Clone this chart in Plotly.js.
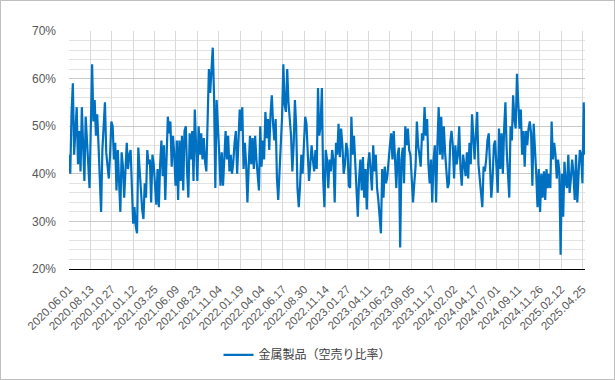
<!DOCTYPE html>
<html>
<head>
<meta charset="utf-8">
<script src="https://cdn.plot.ly/plotly-3.0.1.min.js"></script>
<style>
html,body{margin:0;padding:0;background:#fff;}
#chart{width:615px;height:380px;box-sizing:border-box;border:1px solid #bfbfbf;}
</style>
</head>
<body>
<div id="chart"></div>
<script>
// Series name (legend)
const seriesName = "金属製品（空売り比率）";

// Category tick labels (every 50 trading days)
const tickLabels = ["2020.06.01","2020.08.13","2020.10.27","2021.01.12","2021.03.25","2021.06.09",
  "2021.08.23","2021.11.04","2022.01.19","2022.04.04","2022.06.17","2022.08.30","2022.11.14",
  "2023.01.27","2023.04.11","2023.06.23","2023.09.05","2023.11.17","2024.02.02","2024.04.17",
  "2024.07.01","2024.09.11","2024.11.26","2025.02.12","2025.04.25"];

// Trading days between labelled ticks, and days between sampled readings
const daysPerTick = 50;
const daysPerReading = 3;

// Short-selling ratio (%), every 3rd trading day
const shortRatio = [
  44,40,53,59,44,48,54,42,49,40.5,54,46,38.5,52,47,41,37,50,63,51,55.5,48,52.5,46,37,32,45,50,55,44.5,
  42,39,44,51,50,43,46.5,36.5,45,38,32,44.5,41.5,35,42,46.5,41,44,45,34.5,29.5,33,29,27.5,45.5,41,36,32.5,
  30.5,38,35,45,42,
  43,34,44,42,37.5,33.5,41,33,42,47,39.5,46,34.5,44,52,48.5,51,41.5,48,44,37.5,47,34.5,47,38.5,48,36.5,
  49,50,40.5,35,48.5,43,49,38.5,53.5,47.5,38.5,50,44,48.5,43,47.5,42.5,40.5,52,62,57,61,66.5,56.5,37,55.5,
  48,44.5,37.5,44.5,37.5,43.5,49,43,48,40.5,44,40,42.5,46.5,
  49,40,48,53.5,49,54,41,46.5,42,34,41.5,48,42,47.5,41,48,43,40,36.5,50,41.5,47,43,53,47.5,51.5,45,52.5,
  56.5,50.5,47,51.5,39,34.5,41,48.5,52,63,54.5,53,62,55,51.5,48,40.5,46,55.5,50,37,33,37.5,44,40,46,52,
  50.5,44.5,38.5,42,46,43,40.5,45,41,58,48,
  50,58,39,33,45,43,37,43,40.5,45,43,34,46.5,44,50.5,43.5,49.5,46,40,42,46.5,45,37.5,37,52,44,48,42,37.5,
  31,39,43,36.5,43.5,35,41,32.5,42,44.5,40,36.5,46,40.5,44,37,34.5,30,27.5,41,35,41.5,38,39.5,44,46,48.5,
  43,49,41.5,37,44,45.5,24.5,43,45.5,38,
  50,46,49.5,45,44,40,34,38,41.5,51,46,44,41.5,48.5,47,54,48,51.5,42,38,43,34,43,46,34,46,54,44,52,43,50,
  44.5,40,37,38,46.5,49,46,39,46,42,44,50,41,37.5,44,42,39.5,44.5,39,46.5,42,52.5,47,43,48.5,53,42,39,37,
  33,41.5,40.5,43,47,48.5,
  42,35,39,46,47,40,36,49.5,41,48.5,40,49.5,55,45,40,35,50,47,56.5,51.5,49.5,61,55,49.5,53.5,44,49,41.5,
  49,46,49.5,51,48.5,37.5,50.5,46,40,33,41,32,40,35,40.5,34.5,41,37,40,37,51,43,46.5,44,39,43,40.5,23,40,
  31,42.5,38,37,44,36,39,43,40,34.5,44,34,40,45,44,38,55,44
];

const xIdx = shortRatio.map((v, i) => i * daysPerReading);
const tickVals = tickLabels.map((t, i) => i * daysPerTick);
const lastX = xIdx[xIdx.length - 1];

const trace = {
  type: 'scatter',
  mode: 'lines',
  name: seriesName,
  x: xIdx,
  y: shortRatio,
  line: {color: '#0070c0', width: 2.2},
  hoverinfo: 'skip'
};

const layout = {
  width: 613,
  height: 378,
  margin: {l: 68, r: 29, t: 30, b: 110},
  paper_bgcolor: '#ffffff',
  plot_bgcolor: '#ffffff',
  font: {family: '"Liberation Sans", Arial, sans-serif', color: '#595959', size: 12},
  showlegend: true,
  legend: {
    orientation: 'h',
    xref: 'container', yref: 'container',
    x: 0.5, xanchor: 'center',
    y: 0.064, yanchor: 'middle',
    font: {family: '"Noto Sans CJK JP", sans-serif', size: 12, color: '#404040'},
    itemwidth: 30
  },
  xaxis: {
    type: 'linear',
    range: [0, lastX],
    tickmode: 'array',
    tickvals: tickVals,
    ticktext: tickLabels,
    tickangle: -45,
    tickfont: {size: 11.5, color: '#595959'},
    ticklabelstandoff: 8,
    showgrid: true,
    gridcolor: '#d9d9d9',
    gridwidth: 1,
    zeroline: false,
    showline: true,
    linecolor: '#000000',
    linewidth: 1,
    ticks: ''
  },
  yaxis: {
    range: [20, 70],
    dtick: 10,
    tick0: 20,
    ticksuffix: '%',
    tickfont: {size: 12, color: '#595959'},
    showgrid: true,
    gridcolor: '#c8c8c8',
    gridwidth: 1,
    minor: {dtick: 2, showgrid: true, gridcolor: '#e3e3e3', gridwidth: 1},
    zeroline: false,
    showline: false,
    ticks: '',
    ticklabelstandoff: 12
  }
};

Plotly.newPlot('chart', [trace], layout, {staticPlot: true, displayModeBar: false});
</script>
</body>
</html>
